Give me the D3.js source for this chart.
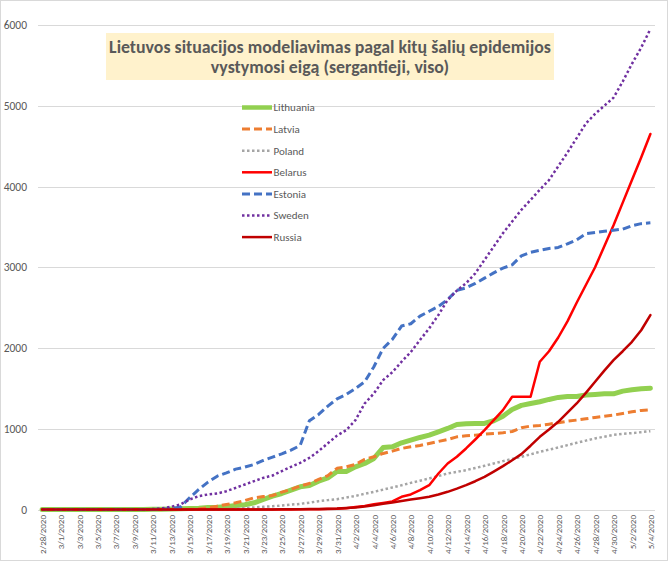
<!DOCTYPE html>
<html><head><meta charset="utf-8">
<script src="https://cdn.jsdelivr.net/npm/d3@7"></script>
<style>
html,body{margin:0;padding:0;background:#fff;}
svg{display:block;font-family:Carlito, Lato, "Open Sans", sans-serif;}
</style></head>
<body>
<svg id="chart" width="670" height="562"></svg>
<script>
const dates = (function(){
  const out=[];
  for(let i=0;i<67;i++){const d=new Date(2020,1,28+i); out.push((d.getMonth()+1)+"/"+d.getDate()+"/2020");}
  return out;
})();
const yTicks = [0,1000,2000,3000,4000,5000,6000];
const titleLines = ["Lietuvos situacijos modeliavimas pagal kitų šalių epidemijos","vystymosi eigą (sergantieji, viso)"];
const seriesNames = ["Lithuania","Latvia","Poland","Belarus","Estonia","Sweden","Russia"];

const lithuania = [1,1,1,1,1,1,1,1,1,1,1,1,3,3,6,8,12,17,25,27,33,50,58,83,124,165,198,240,281,297,351,392,470,470,529,570,632,768,776,826,859,892,921,962,1004,1053,1061,1066,1066,1099,1156,1239,1289,1313,1334,1363,1388,1400,1400,1417,1425,1433,1433,1466,1483,1495,1503];
const latvia = [0,0,0,0,0,0,0,0,0,0,0,0,0,0,0,0,1,5,21,41,62,83,111,145,160,173,215,248,290,322,372,420,510,529,558,620,653,694,723,756,776,793,818,843,867,900,913,921,933,942,950,966,1012,1033,1041,1057,1074,1094,1107,1123,1140,1156,1169,1189,1210,1227,1235];
const poland = [0,0,0,0,0,0,0,0,0,0,0,0,0,0,0,0,1,2,3,4,5,10,18,25,33,40,50,60,70,85,103,116,128,148,169,194,219,246,273,300,330,357,384,415,446,466,487,514,541,570,599,626,653,683,714,741,768,797,826,853,880,902,925,936,946,958,970];
const belarus = [0,0,0,0,0,0,0,0,0,0,0,0,0,0,0,0,0,0,0,0,0,0,0,0,0,0,1,1,2,2,3,5,8,15,30,45,66,82,100,157,186,240,301,446,570,653,756,867,983,1107,1231,1396,1396,1396,1830,1960,2130,2330,2560,2780,3000,3260,3520,3800,4080,4360,4650];
const estonia = [0,0,0,0,0,0,0,0,0,0,0,0,0,3,10,30,145,248,340,413,454,500,525,558,607,648,690,735,793,1100,1177,1280,1370,1425,1499,1582,1768,1995,2106,2272,2300,2395,2455,2515,2600,2715,2745,2800,2865,2930,2990,3030,3140,3185,3210,3232,3245,3290,3340,3415,3430,3445,3458,3472,3515,3540,3550];
const sweden = [0,0,0,0,0,0,0,0,0,0,0,0,5,15,33,62,124,165,186,198,227,268,310,351,392,421,475,529,578,640,723,820,915,983,1107,1313,1437,1602,1700,1830,1950,2099,2244,2409,2595,2711,2802,2925,3091,3256,3421,3566,3711,3834,3960,4080,4250,4420,4600,4780,4900,5000,5100,5300,5520,5720,5950];
const russia = [0,0,0,0,0,0,0,0,0,0,0,0,0,0,0,0,0,0,0,0,0,0,0,0,0,0,2,3,4,5,7,10,12,18,25,38,54,70,87,105,124,140,157,185,219,258,301,350,405,470,537,610,686,790,900,990,1086,1200,1313,1445,1582,1720,1850,1960,2077,2220,2408];

const seriesValues = [lithuania,latvia,poland,belarus,estonia,sweden,russia];
const styles = [
  {color:"#92D050", width:5, dash:null, cap:"round"},
  {color:"#ED7D31", width:3, dash:"8 4", cap:"butt"},
  {color:"#A5A5A5", width:2.5, dash:"2.5 2.5", cap:"butt"},
  {color:"#FF0000", width:2.5, dash:null, cap:"round"},
  {color:"#4472C4", width:3, dash:"8 4", cap:"butt"},
  {color:"#7030A0", width:2.5, dash:"2.5 2.5", cap:"butt"},
  {color:"#C00000", width:2.5, dash:null, cap:"round"}
];

const svg = d3.select("#chart");
svg.append("rect").attr("x",0.5).attr("y",0.5).attr("width",667).attr("height",560)
  .attr("fill","#fff").attr("stroke","#D9D9D9").attr("stroke-width",1);

const x = d3.scalePoint().domain(dates).range([37.5,655]).padding(0.5);
const y = d3.scaleLinear().domain([0,6000]).range([509.5,25]);

svg.append("g").selectAll("line").data(yTicks).join("line")
  .attr("x1",38).attr("x2",655)
  .attr("y1",d=>Math.round(y(d))+0.5).attr("y2",d=>Math.round(y(d))+0.5)
  .attr("stroke","#D9D9D9").attr("stroke-width",1);

const yAxis = d3.axisLeft(y).tickValues(yTicks).tickSize(0).tickPadding(0).tickFormat(d3.format("d"));
const gy = svg.append("g").attr("transform","translate(27,0)").call(yAxis);
gy.select(".domain").remove();
gy.selectAll("text").attr("font-size","11.5px").attr("fill","#595959").attr("font-family","Carlito, Lato, sans-serif");

const xLabels = dates.filter((d,i)=>i%2===0);
const xAxis = d3.axisBottom(x).tickValues(xLabels).tickSize(0).tickPadding(0);
const gx = svg.append("g").attr("transform","translate(0,515)").call(xAxis);
gx.select(".domain").remove();
gx.selectAll("text").attr("font-size","9px").attr("fill","#595959")
  .attr("font-family","Carlito, Lato, sans-serif")
  .attr("text-anchor","end").attr("transform","rotate(-90)")
  .attr("x",0).attr("y",0).attr("dy","0.35em");

const line = d3.line().x((d,i)=>x(dates[i])).y(d=>y(d));
seriesValues.forEach((vals,k)=>{
  const s = styles[k];
  svg.append("path").datum(vals).attr("d",line)
    .attr("fill","none").attr("stroke",s.color).attr("stroke-width",s.width)
    .attr("stroke-linejoin","round").attr("stroke-linecap",s.cap)
    .attr("stroke-dasharray",s.dash);
});

// title box
svg.append("rect").attr("x",106).attr("y",33).attr("width",448).attr("height",47).attr("fill","#FFF2CC");
const tt = svg.append("text").attr("text-anchor","middle").attr("font-weight","bold")
  .attr("fill","#595959").attr("font-size","17.5px").attr("font-family","Carlito, Lato, sans-serif");
titleLines.forEach((t,i)=>{
  tt.append("tspan").attr("x",330).attr("y",52.5+i*20.5).text(t);
});
// fit first line width to ~442px
const first = tt.select("tspan").node();
const w = first.getComputedTextLength();
if (w > 0) {
  const fs = Math.max(15, Math.min(19, 17.5 * 442 / w));
  tt.attr("font-size", fs + "px");
}

const lg = svg.append("g");
seriesNames.forEach((n,k)=>{
  const s = styles[k];
  const yy = 107.5 + k*21.6;
  lg.append("line").attr("x1",242).attr("x2",272).attr("y1",yy).attr("y2",yy)
    .attr("stroke",s.color).attr("stroke-width",s.width===5?4.5:s.width)
    .attr("stroke-dasharray",s.dash);
  lg.append("text").attr("x",273.5).attr("y",yy).attr("dy","0.35em")
    .attr("font-size","11px").attr("fill","#595959")
    .attr("font-family","Carlito, Lato, sans-serif").text(n);
});
</script>
</body></html>
